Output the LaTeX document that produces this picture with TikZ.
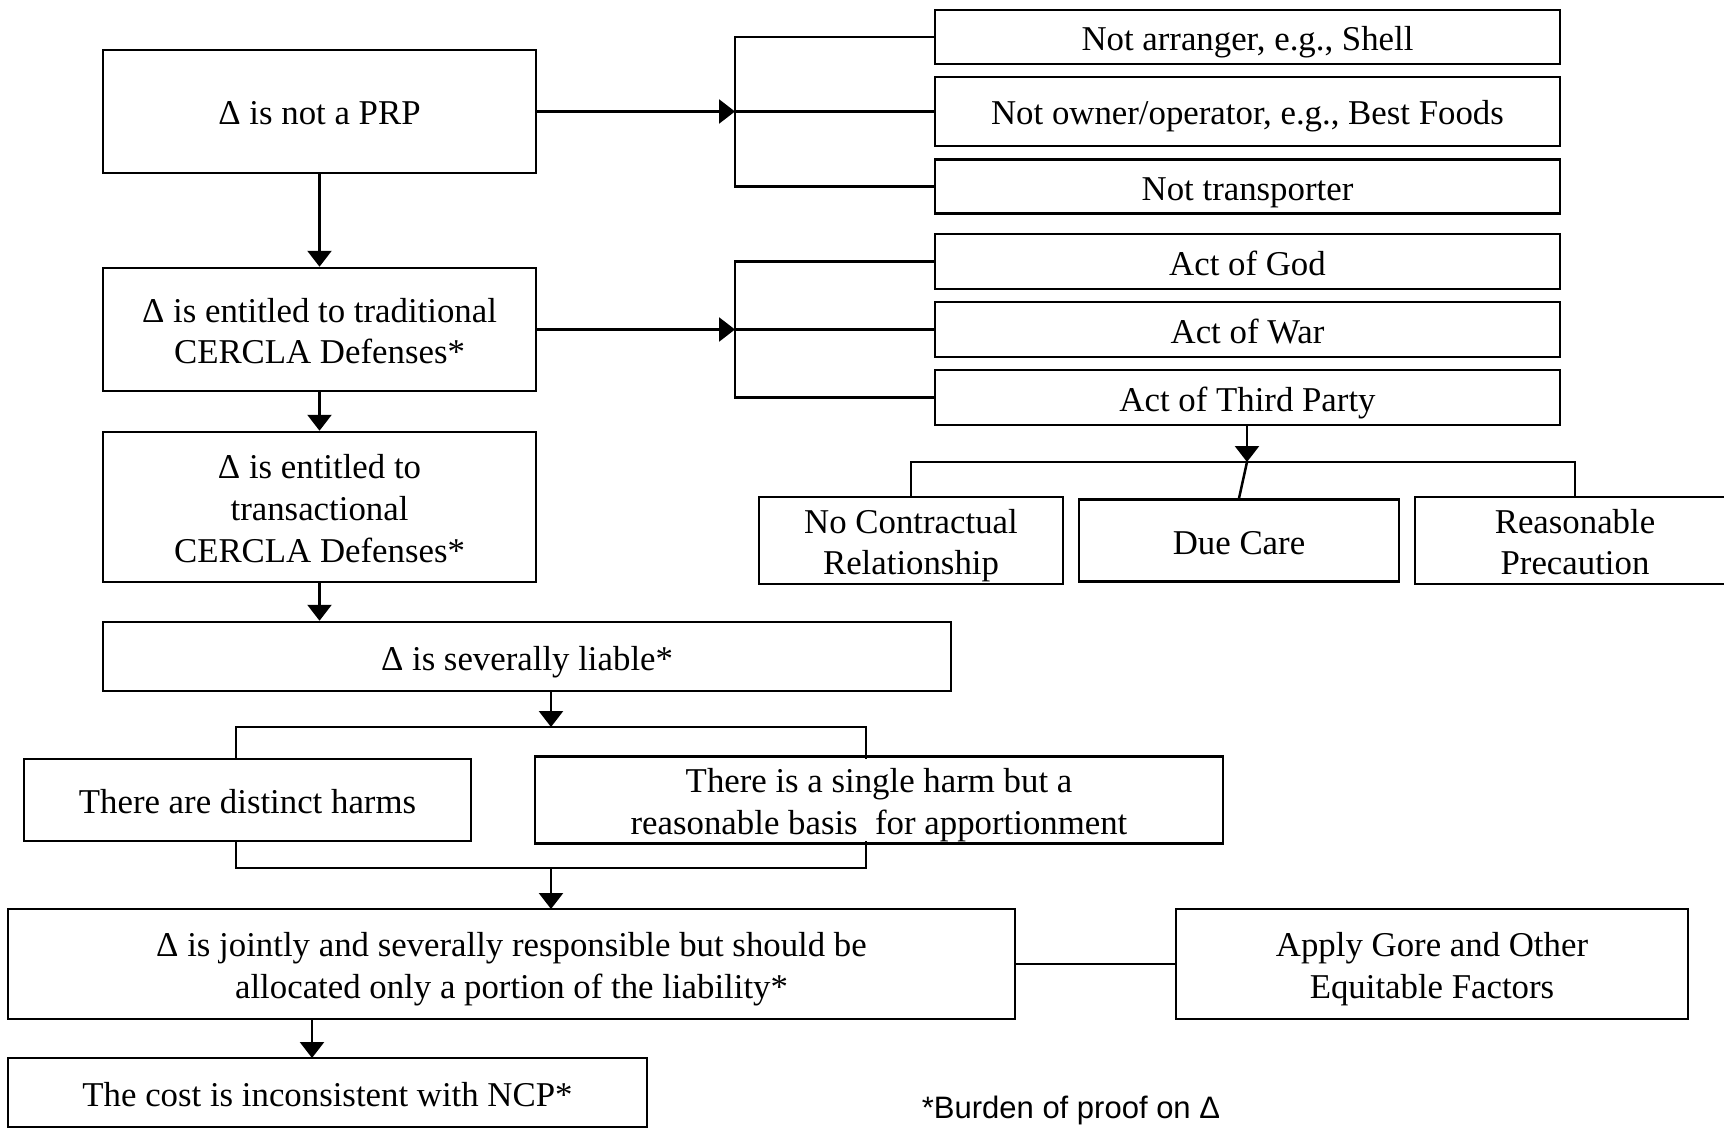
\documentclass[tikz,border=0pt]{standalone}
\usepackage{fontspec}
\setmainfont{Liberation Serif}
\newfontfamily\notefont{Liberation Sans}
\usetikzlibrary{arrows.meta}
\newcommand\tp{\rule{0pt}{36pt}}
\newcommand\bt{\rule[-9pt]{0pt}{9pt}}
\begin{document}
\begin{tikzpicture}[x=1pt,y=-1pt,
  box/.style={draw, line width=2.5pt, inner sep=0pt, align=center, font=\fontsize{34.8}{41.8}\selectfont},
  conn/.style={line width=2.5pt},
  arr/.style={line width=2.5pt, -{Triangle[width=24pt,length=16pt]}}]
\useasboundingbox[fill=white] (0,0) rectangle (1724,1129);
% left column
\node[box, minimum width=433pt, minimum height=123pt] (prp) at (319.5,111.5) {\tp Δ is not a PRP\bt};
\node[box, minimum width=433pt, minimum height=123pt] (trad) at (319.5,329.5) {\tp Δ is entitled to traditional\\CERCLA Defenses*\bt};
\node[box, minimum width=433pt, minimum height=150pt] (trans) at (319.5,507) {\tp Δ is entitled to\\transactional\\CERCLA Defenses*\bt};
% right column
\node[box, minimum width=625pt, minimum height=54pt] (arranger) at (1247.5,37) {\tp Not arranger, e.g., Shell\bt};
\node[box, minimum width=625pt, minimum height=69pt] (owner) at (1247.5,111.5) {\tp Not owner/operator, e.g., Best Foods\bt};
\node[box, minimum width=625pt, minimum height=54pt] (transp) at (1247.5,186.5) {\tp Not transporter\bt};
\node[box, minimum width=625pt, minimum height=55pt] (god) at (1247.5,261.5) {\tp Act of God\bt};
\node[box, minimum width=625pt, minimum height=55pt] (war) at (1247.5,329.5) {\tp Act of War\bt};
\node[box, minimum width=625pt, minimum height=55pt] (third) at (1247.5,397.5) {\tp Act of Third Party\bt};
\node[box, minimum width=304pt, minimum height=82pt] (ncr) at (911,540.5) {\tp No Contractual\\Relationship\bt};
\node[box, minimum width=320pt, minimum height=82pt] (due) at (1239,540.5) {\tp Due Care\bt};
\node[box, minimum width=320pt, minimum height=82pt] (rp) at (1575,540.5) {\tp Reasonable\\Precaution\bt};
% lower part
\node[box, minimum width=848pt, minimum height=69pt] (sev) at (527,656.5) {\tp Δ is severally liable*\bt};
\node[box, minimum width=447pt, minimum height=82pt] (dist) at (247.5,800) {\tp There are distinct harms\bt};
\node[box, minimum width=688pt, minimum height=82pt] (single) at (879,800) {\tp There is a single harm but a\\reasonable basis\ \ for apportionment\bt};
\node[box, minimum width=1007pt, minimum height=110pt] (joint) at (511.5,964) {\tp Δ is jointly and severally responsible but should be\\allocated only a portion of the liability*\bt};
\node[box, minimum width=512pt, minimum height=110pt] (gore) at (1432,964) {\tp Apply Gore and Other\\Equitable Factors\bt};
\node[box, minimum width=639pt, minimum height=69pt] (cost) at (327.5,1092.5) {\tp The cost is inconsistent with NCP*\bt};
\node[font=\notefont\fontsize{31}{37}\selectfont, inner sep=0pt] (note) at (1071,1110) {*Burden of proof on Δ};
% coordinates
\coordinate (b1) at (735,111.5);
\coordinate (b2) at (735,329.5);
\coordinate (t1) at (1247,462);
\coordinate (s0) at (551,691);
\coordinate (s1) at (551,727);
\coordinate (ul) at (236,727);
\coordinate (ur) at (866,727);
\coordinate (dt) at (236,759);
\coordinate (st) at (866,759);
\coordinate (db) at (236,841);
\coordinate (sb) at (866,841);
\coordinate (ll) at (236,868);
\coordinate (lr) at (866,868);
\coordinate (m1) at (551,868);
\coordinate (m2) at (551,909);
\coordinate (c0) at (312,1019);
\coordinate (c1) at (312,1058);
% connectors
\draw[arr] (prp) -- (trad);
\draw[arr] (trad) -- (trans);
\draw[arr] (trans.south) -- (trans.south |- sev.north);
\draw[arr] (prp.east) -- (b1);
\draw[conn] (arranger.west) -| (b1) |- (transp.west);
\draw[conn] (b1) -- (owner.west);
\draw[arr] (trad.east) -- (b2);
\draw[conn] (god.west) -| (b2) |- (third.west);
\draw[conn] (b2) -- (war.west);
\draw[arr] (third.south -| t1) -- (t1);
\draw[conn] (ncr.north) |- (t1) -| (rp.north);
\draw[conn] (t1) -- (due.north);
\draw[arr] (s0) -- (s1);
\draw[conn] (dt) -- (ul) -- (ur) -- (st);
\draw[conn] (db) -- (ll) -- (lr) -- (sb);
\draw[arr] (m1) -- (m2);
\draw[conn] (joint.east) -- (gore.west);
\draw[arr] (c0) -- (c1);
\end{tikzpicture}
\end{document}
